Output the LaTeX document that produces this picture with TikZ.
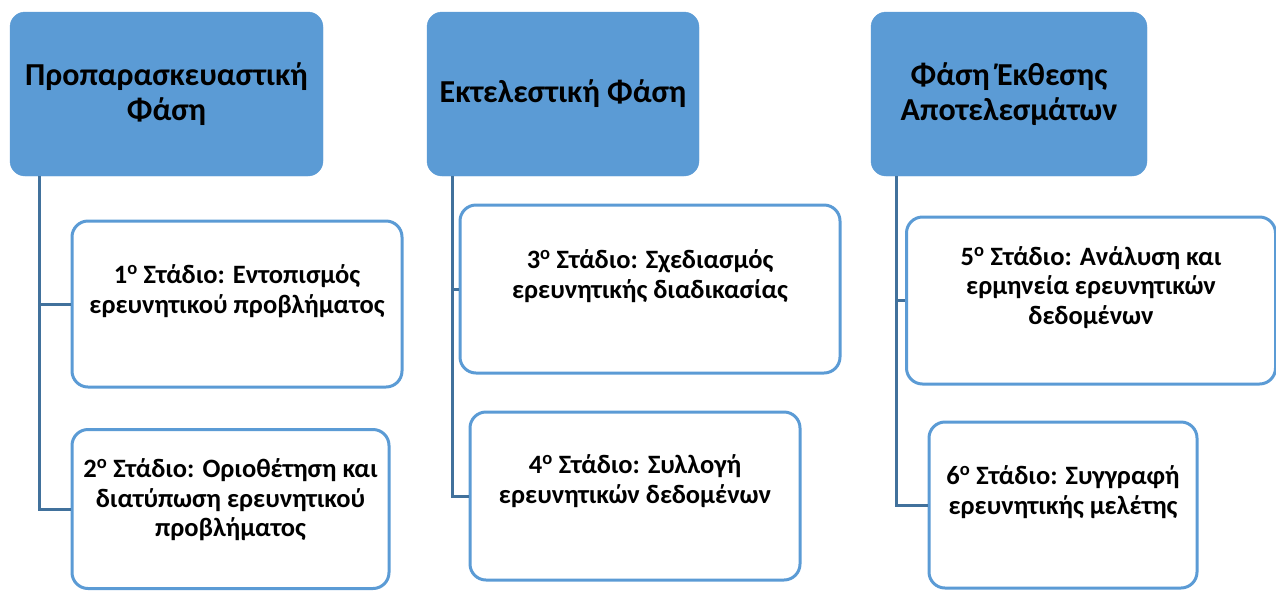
\documentclass[tikz,border=0pt]{standalone}
\usepackage{fontspec}
\setmainfont{Carlito}
\definecolor{phaseblue}{HTML}{5B9BD5}
\definecolor{linkblue}{HTML}{41719C}

\begin{document}
\begin{tikzpicture}[x=1pt,y=-1pt,
    phase/.style={fill=phaseblue, draw=phaseblue, rounded corners=15pt, inner sep=0pt,
      align=center, font=\fontsize{32}{35}\selectfont\bfseries},
    stage/.style={draw=phaseblue, line width=3pt, fill=white, rounded corners=16pt, inner sep=0pt},
    stagetext/.style={align=center, font=\fontsize{26.5}{29.5}\selectfont\bfseries},
    link/.style={draw=linkblue, line width=3pt}]
      \useasboundingbox (0,0) rectangle (1276,590);

      % phases
      \node [phase, minimum width=313pt, minimum height=164pt] (A) at (166.5,94) {Προπαρασκευαστική\\Φάση};
      \node [phase, minimum width=272pt, minimum height=164pt] (B) at (563,94) {Εκτελεστική Φάση};
      \node [phase, minimum width=276pt, minimum height=164pt] (C) at (1009,94) {Φάση Έκθεσης\\Αποτελεσμάτων};

      % stages
      \node [stage, minimum width=330pt, minimum height=166pt] (1) at (237,304) {};
      \node [stage, minimum width=317pt, minimum height=159pt] (2) at (230.5,509) {};
      \node [stage, minimum width=380pt, minimum height=168pt] (3) at (650,289) {};
      \node [stage, minimum width=330pt, minimum height=168pt] (4) at (635,496) {};
      \node [stage, minimum width=369pt, minimum height=167pt] (5) at (1091,300.5) {};
      \node [stage, minimum width=268pt, minimum height=166pt] (6) at (1063,505) {};

      \node [stagetext] (1t) at ([yshift=13pt]1.center) {1\textsuperscript{ο} Στάδιο: Εντοπισμός\\ερευνητικού προβλήματος};
      \node [stagetext] (2t) at ([yshift=9pt]2.center) {2\textsuperscript{ο} Στάδιο: Οριοθέτηση και\\διατύπωση ερευνητικού\\προβλήματος};
      \node [stagetext] (3t) at ([yshift=13pt]3.center) {3\textsuperscript{ο} Στάδιο: Σχεδιασμός\\ερευνητικής διαδικασίας};
      \node [stagetext] (4t) at ([yshift=15pt]4.center) {4\textsuperscript{ο} Στάδιο: Συλλογή\\ερευνητικών δεδομένων};
      \node [stagetext] (5t) at ([yshift=13pt]5.center) {5\textsuperscript{ο} Στάδιο: Ανάλυση και\\ερμηνεία ερευνητικών\\δεδομένων};
      \node [stagetext] (6t) at ([yshift=13pt]6.center) {6\textsuperscript{ο} Στάδιο: Συγγραφή\\ερευνητικής μελέτης};

      % links
      \draw [link] ([xshift=30pt]A.south west) |- (1.west);
      \draw [link] ([xshift=30pt]A.south west) |- (2.west);
      \draw [link] ([xshift=26pt]B.south west) |- (3.west);
      \draw [link] ([xshift=26pt]B.south west) |- (4.west);
      \draw [link] ([xshift=26pt]C.south west) |- (5.west);
      \draw [link] ([xshift=26pt]C.south west) |- (6.west);
    \end{tikzpicture}
\end{document}
